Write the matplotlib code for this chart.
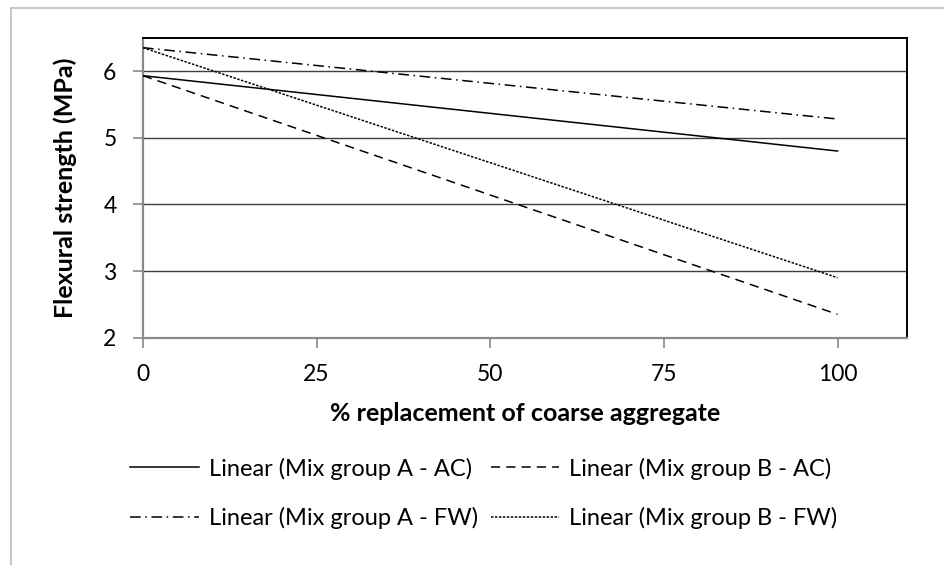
import matplotlib
matplotlib.use('Agg')
import matplotlib.pyplot as plt
from matplotlib.lines import Line2D

plt.rcParams['font.family'] = ['Lato', 'DejaVu Sans']

# trendline end points
replacement = [0, 100]
mix_a_ac = [5.93, 4.80]
mix_b_ac = [5.93, 2.35]
mix_a_fw = [6.35, 5.28]
mix_b_fw = [6.35, 2.90]

x_ticks = [0, 25, 50, 75, 100]
y_ticks = [2, 3, 4, 5, 6]

series = [
    ('Linear (Mix group A - AC)', mix_a_ac, '-'),
    ('Linear (Mix group B - AC)', mix_b_ac, (0, (6, 4))),
    ('Linear (Mix group A - FW)', mix_a_fw, (0, (7, 3, 1, 3))),
    ('Linear (Mix group B - FW)', mix_b_fw, (0, (1.6, 1.0))),
]

fig = plt.figure(figsize=(9.45, 5.65), dpi=100)
ax = fig.add_axes([0.1513, 0.4023, 0.8085, 0.5310])

for y in y_ticks[1:]:
    ax.axhline(y, color='#404040', lw=1.0, zorder=1)

handles = []
for label, vals, ls in series:
    ln, = ax.plot(replacement, vals, color='black', lw=1.1, linestyle=ls,
                  label=label, zorder=3)
    handles.append(ln)

ax.set_xlim(0, 110)
ax.set_ylim(2, 6.5)
ax.set_xticks(x_ticks)
ax.set_yticks(y_ticks)
ax.tick_params(axis='both', direction='out', length=7, width=1.2,
               color='#898989', labelsize=16.5, pad=12)

ax.spines['left'].set_color('#898989')
ax.spines['bottom'].set_color('#898989')
ax.spines['left'].set_linewidth(1.6)
ax.spines['bottom'].set_linewidth(1.6)
ax.spines['top'].set_color('black')
ax.spines['right'].set_color('black')
ax.spines['top'].set_linewidth(1.4)
ax.spines['right'].set_linewidth(1.4)

ax.set_xlabel('% replacement of coarse aggregate', fontsize=18,
              fontweight='bold', labelpad=12)
ax.set_ylabel('Flexural strength (MPa)', fontsize=18, fontweight='bold',
              labelpad=19)

# legend: row order A-AC, B-AC / A-FW, B-FW
order = [handles[0], handles[2], handles[1], handles[3]]
fig.legend(order, [h.get_label() for h in order], ncol=2,
           loc='center', bbox_to_anchor=(0.512, 0.127), frameon=False,
           fontsize=17, handlelength=2.9, handletextpad=0.42,
           columnspacing=0.55, labelspacing=1.15)

# outer chart frame (top and left edges visible)
fig.add_artist(Line2D([0.012, 1.0], [0.986, 0.986], color='#bfbfbf', lw=1.2,
                      transform=fig.transFigure))
fig.add_artist(Line2D([0.012, 0.012], [0.0, 0.986], color='#bfbfbf', lw=1.2,
                      transform=fig.transFigure))

plt.savefig('out.png', dpi=100)
plt.close()
